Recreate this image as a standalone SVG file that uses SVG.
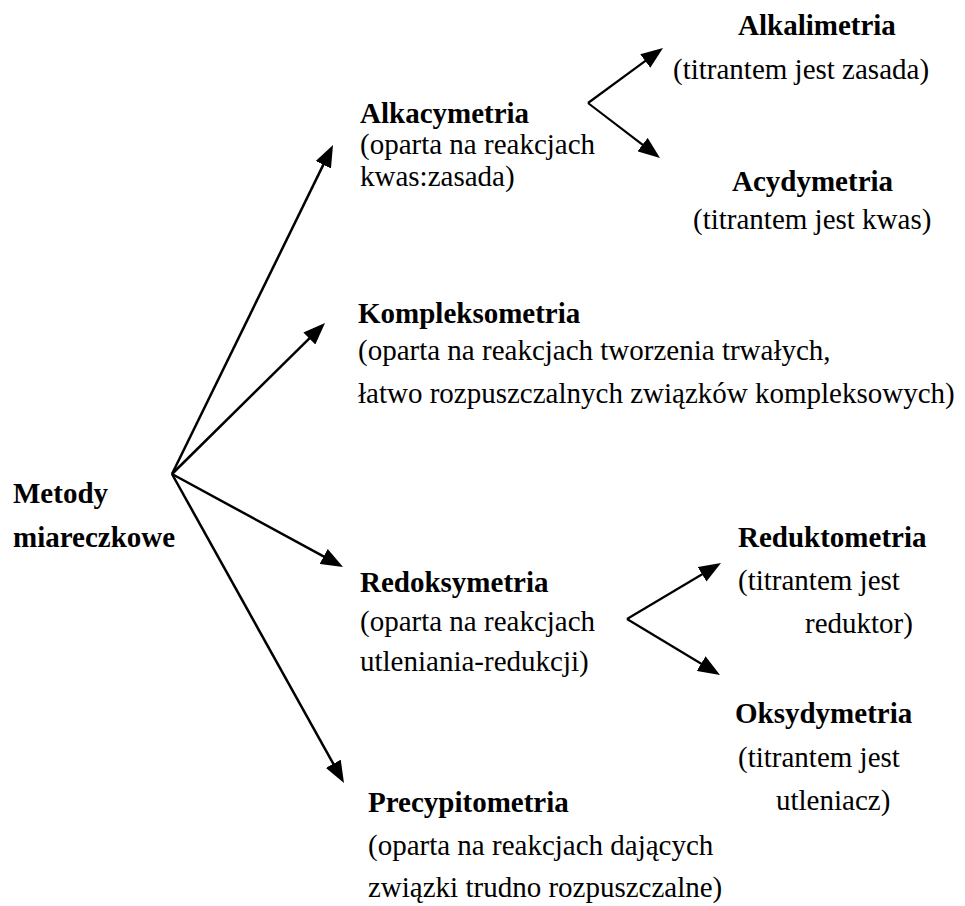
<svg xmlns="http://www.w3.org/2000/svg" width="965" height="906" viewBox="0 0 965 906">
<style>
text{font-family:"Liberation Serif","Times New Roman",serif;font-size:29px;fill:#000}
.b{font-weight:bold}
.c{stroke:#000;stroke-width:2.5;fill:none}
.s{stroke-width:2.2}
</style>
<defs>
<marker id="ah" markerUnits="userSpaceOnUse" markerWidth="22" markerHeight="17" refX="4" refY="8.5" orient="auto">
<path d="M0,0 L22,8.5 L0,17 z" fill="#000"/>
</marker>
</defs>
<rect width="965" height="906" fill="#fff"/>
<g id="connectors">
<line class="c" x1="172" y1="474" x2="325.09" y2="161.17" marker-end="url(#ah)"/>
<line class="c" x1="172" y1="474" x2="312.19" y2="335.65" marker-end="url(#ah)"/>
<line class="c" x1="172" y1="474" x2="327.19" y2="558.4" marker-end="url(#ah)"/>
<line class="c" x1="172" y1="474" x2="335.24" y2="767.27" marker-end="url(#ah)"/>
<line class="c s" x1="588" y1="103" x2="648.48" y2="58.65" marker-end="url(#ah)"/>
<line class="c s" x1="588" y1="103" x2="645.7" y2="147.07" marker-end="url(#ah)"/>
<line class="c s" x1="627" y1="619" x2="705.54" y2="572.22" marker-end="url(#ah)"/>
<line class="c s" x1="627" y1="619" x2="704.58" y2="665.72" marker-end="url(#ah)"/>
</g>
<g id="metody">
<text class="b" x="13" y="503">Metody</text>
<text class="b" x="13" y="547">miareczkowe</text>
</g>
<g id="alkacymetria">
<text class="b" x="360" y="123">Alkacymetria</text>
<text x="360" y="154">(oparta na reakcjach</text>
<text x="360" y="186">kwas:zasada)</text>
</g>
<g id="alkalimetria">
<text class="b" x="738" y="35">Alkalimetria</text>
<text x="673" y="79">(titrantem jest zasada)</text>
</g>
<g id="acydymetria">
<text class="b" x="732" y="191">Acydymetria</text>
<text x="693" y="229">(titrantem jest kwas)</text>
</g>
<g id="kompleksometria">
<text class="b" x="358" y="323">Kompleksometria</text>
<text x="358" y="360">(oparta na reakcjach tworzenia trwałych,</text>
<text x="358" y="403">łatwo rozpuszczalnych związków kompleksowych)</text>
</g>
<g id="redoksymetria">
<text class="b" x="360" y="592">Redoksymetria</text>
<text x="360" y="631">(oparta na reakcjach</text>
<text x="360" y="671">utleniania-redukcji)</text>
</g>
<g id="reduktometria">
<text class="b" x="738" y="547">Reduktometria</text>
<text x="738" y="590">(titrantem jest</text>
<text x="805" y="633">reduktor)</text>
</g>
<g id="oksydymetria">
<text class="b" x="735" y="723">Oksydymetria</text>
<text x="738" y="767">(titrantem jest</text>
<text x="776" y="810">utleniacz)</text>
</g>
<g id="precypitometria">
<text class="b" x="368" y="812">Precypitometria</text>
<text x="368" y="855">(oparta na reakcjach dających</text>
<text x="368" y="897">związki trudno rozpuszczalne)</text>
</g>
</svg>
